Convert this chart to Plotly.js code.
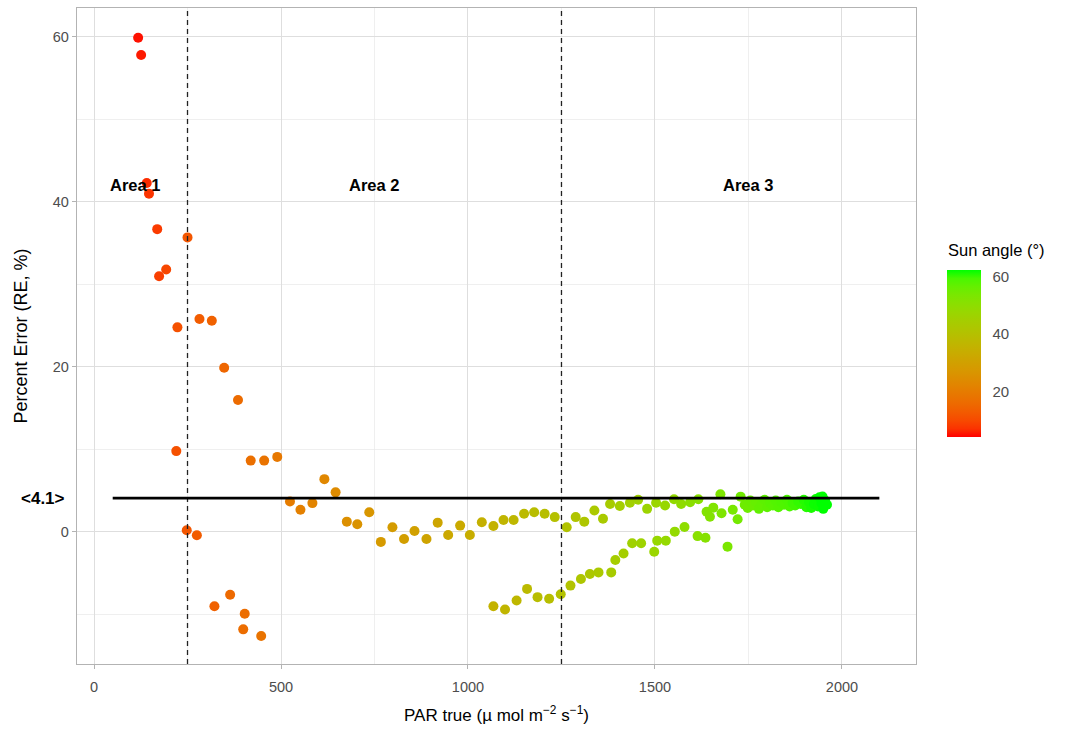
<!DOCTYPE html>
<html>
<head>
<meta charset="utf-8">
<script src="https://cdn.plot.ly/plotly-3.0.1.min.js"></script>
<style>
html,body{margin:0;padding:0;background:#fff;}
#chart{width:1075px;height:729px;}
</style>
</head>
<body>
<div id="chart"></div>
<script>
// PAR true (µmol m-2 s-1)
const parTrue = [
  118, 126, 141, 147, 169, 174, 193, 220, 223, 248, 250, 275, 282, 315, 322, 348, 364, 385, 399, 403,
  419, 447, 455, 490, 524, 552, 584, 616, 646, 676, 704, 736, 767, 798, 829, 857, 889, 919, 947, 979,
  1005, 1037, 1068, 1068, 1095, 1099, 1122, 1130, 1150, 1158, 1177, 1186, 1205, 1217, 1232, 1248, 1264, 1274, 1288, 1302,
  1311, 1326, 1338, 1349, 1361, 1380, 1383, 1394, 1406, 1416, 1433, 1439, 1455, 1463, 1479, 1498, 1503, 1506, 1527, 1529,
  1551, 1553, 1570, 1579, 1594, 1614, 1616, 1635, 1638, 1647, 1656, 1675, 1678, 1694, 1708, 1721, 1729,
  1740, 1748, 1755, 1762, 1770, 1778, 1785, 1793, 1800, 1808, 1815, 1823, 1830, 1838, 1845, 1853, 1860, 1868, 1875, 1883,
  1890, 1898, 1905, 1912, 1918, 1925, 1930, 1936, 1940, 1945, 1950, 1955, 1960, 1948
];
// Percent Error (RE, %)
const percentError = [
  59.9, 57.8, 42.3, 41.0, 36.7, 31.0, 31.8, 9.8, 24.8, 0.2, 35.7, -0.4, 25.8, 25.6, -9.0, 19.9, -7.6, 16.0, -11.8, -9.9,
  8.65, -12.6, 8.65, 9.1, 3.7, 2.7, 3.5, 6.4, 4.8, 1.25, 0.93, 2.4, -1.2, 0.57, -0.85, 0.12, -0.85, 1.13, -0.36, 0.77,
  -0.36, 1.17, 0.73, -9.0, 1.45, -9.4, 1.45, -8.3, 2.2, -6.9, 2.4, -7.9, 2.2, -8.1, 1.8, -7.55, 0.57, -6.5, 1.8, -5.7,
  1.25, -5.1, 2.6, -4.9, 1.6, 3.4, -4.9, -3.4, 3.15, -2.6, 3.55, -1.37, 3.9, -1.37, 2.8, -2.4, 3.55, -1.05, 3.2, -1.05,
  3.96, 0.04, 3.4, 0.6, 3.6, -0.5, 3.96, -0.7, 2.46, 1.85, 2.95, 4.57, 2.27, -1.78, 2.7, 1.54, 4.28,
  3.3, 2.9, 3.8, 3.2, 3.6, 2.8, 3.4, 3.9, 3.0, 3.5, 3.2, 3.8, 3.0, 3.6, 3.3, 3.9, 3.1, 3.5, 3.2, 3.7,
  3.4, 3.9, 3.0, 3.6, 2.9, 3.4, 4.0, 3.1, 4.2, 3.5, 2.8, 3.8, 3.3, 4.3
];
// Sun angle (°)
const sunAngle = [
  5, 5.5, 6.5, 7, 8, 8.5, 9.5, 11, 11, 12, 12, 13, 13, 14, 14, 15, 15.5, 16, 16.5, 16.5,
  17, 18, 18, 19, 20, 21, 22, 23, 24, 25, 26, 27, 28, 28.5, 29.5, 30, 31, 31.5, 32.5, 33,
  34, 35, 35.5, 35.5, 36.5, 36.5, 37, 37, 38, 38, 39, 39, 39.5, 39.5, 40, 40.5, 41, 41, 41.5, 42,
  42, 42.5, 43, 43, 43.5, 44, 44, 44.5, 45, 45, 45.5, 46, 46, 46.5, 47, 47.5, 47.5, 48, 48, 48.5,
  49, 49, 49.5, 50, 50.5, 51, 51, 51.5, 52, 52, 52.5, 53, 53, 53.5, 54, 54.5, 55,
  55.5, 55.5, 56, 56, 56.5, 57, 57, 57.5, 57.5, 58, 58, 58.5, 58.5, 59, 59, 59.5, 59.5, 60, 60, 60.5,
  60.5, 61, 61, 61.5, 61.5, 62, 62, 62, 62.5, 62.5, 62.5, 62.5, 62.5, 62.5
];
// Reference lines and labels
const areaBounds = [250, 1250];
const meanError = 4.1;
const meanLineFrom = 50, meanLineTo = 2100;
const areaNames = ["Area 1", "Area 2", "Area 3"];
const areaLabelX = [110, 750, 1750];
const areaLabelY = 42;
const xTicks = [0, 500, 1000, 1500, 2000];
const yTicks = [0, 20, 40, 60];
const cbTicks = [20, 40, 60];

// Lab-interpolated red -> green scale (like ggplot2 scale_colour_gradient)
function srgbToLin(c){c/=255;return c<=0.04045?c/12.92:Math.pow((c+0.055)/1.055,2.4);}
function linToSrgb(c){c=Math.max(0,Math.min(1,c));return Math.round(255*(c<=0.0031308?12.92*c:1.055*Math.pow(c,1/2.4)-0.055));}
function rgbToLab(r,g,b){
  const R=srgbToLin(r),G=srgbToLin(g),B=srgbToLin(b);
  let X=(0.4124*R+0.3576*G+0.1805*B)/0.95047,Y=(0.2126*R+0.7152*G+0.0722*B),Z=(0.0193*R+0.1192*G+0.9505*B)/1.08883;
  const f=t=>t>0.008856?Math.cbrt(t):(7.787*t+16/116);
  const fx=f(X),fy=f(Y),fz=f(Z);
  return [116*fy-16,500*(fx-fy),200*(fy-fz)];
}
function labToRgb(L,a,b){
  const fy=(L+16)/116,fx=fy+a/500,fz=fy-b/200;
  const inv=t=>t>0.206893?t*t*t:(t-16/116)/7.787;
  const X=inv(fx)*0.95047,Y=inv(fy),Z=inv(fz)*1.08883;
  const R=3.2406*X-1.5372*Y-0.4986*Z,G=-0.9689*X+1.8758*Y+0.0415*Z,B=0.0557*X-0.2040*Y+1.0570*Z;
  return 'rgb('+linToSrgb(R)+','+linToSrgb(G)+','+linToSrgb(B)+')';
}
const lo=rgbToLab(255,0,0), hi=rgbToLab(0,255,0);
const cscale=[];
for(let i=0;i<=20;i++){const t=i/20;cscale.push([t,labToRgb(lo[0]+(hi[0]-lo[0])*t,lo[1]+(hi[1]-lo[1])*t,lo[2]+(hi[2]-lo[2])*t)]);}

const FONT='"Liberation Sans", Arial, sans-serif';
const L=77,R=916,T=8,B=664;

const trace={
  type:'scatter',mode:'markers',x:parTrue,y:percentError,
  marker:{size:10,color:sunAngle,colorscale:cscale,cmin:4,cmax:62.5,line:{width:0},
    colorbar:{thickness:34,thicknessmode:'pixels',len:167,lenmode:'pixels',
      x:(947-L)/(R-L),xanchor:'left',y:(B-270)/(B-T),yanchor:'top',xpad:0,ypad:0,
      outlinewidth:0,tickvals:cbTicks,ticks:'outside',ticklen:9,tickcolor:'rgba(0,0,0,0)',tickwidth:1,
      tickfont:{family:FONT,size:15,color:'#4d4d4d'}}},
  hoverinfo:'x+y',showlegend:false
};

const shapes=[];
areaBounds.forEach(v=>shapes.push({type:'line',xref:'x',yref:'paper',x0:v,x1:v,y0:0,y1:1,layer:'above',
  line:{color:'#222',width:1.3,dash:'5px,4px'}}));
shapes.push({type:'line',xref:'x',yref:'y',x0:meanLineFrom,x1:meanLineTo,y0:meanError,y1:meanError,layer:'above',
  line:{color:'#000',width:2.6}});

const annotations=areaNames.map((n,i)=>({xref:'x',yref:'y',x:areaLabelX[i],y:areaLabelY,xanchor:'center',yanchor:'middle',
  text:'<b>'+n+'</b>',showarrow:false,font:{family:FONT,size:16.5,color:'#000'}}));
annotations.push({xref:'paper',yref:'y',x:(43-L)/(R-L),xanchor:'center',y:meanError,yanchor:'middle',
  text:'<b>&lt;'+meanError+'&gt;</b>',showarrow:false,font:{family:FONT,size:17,color:'#000'}});
annotations.push({xref:'paper',yref:'paper',x:(946-L)/(R-L),xanchor:'left',y:(B-250)/(B-T),yanchor:'middle',
  text:'Sun angle (°)',showarrow:false,font:{family:FONT,size:16.5,color:'#000'}});

const layout={
  width:1075,height:729,margin:{l:L,r:1075-R,t:T,b:729-B,pad:0},
  paper_bgcolor:'#fff',plot_bgcolor:'#fff',
  font:{family:FONT},
  xaxis:{range:[-45.5,2198],tickvals:xTicks,showgrid:true,gridcolor:'#dedede',gridwidth:1,zeroline:false,
    ticks:'outside',ticklen:4,tickcolor:'#b3b3b3',tickfont:{family:FONT,size:14.5,color:'#4d4d4d'},ticklabelstandoff:5,
    showline:true,mirror:true,linecolor:'#b3b3b3',linewidth:1.3,
    minor:{dtick:250,tick0:250,showgrid:true,gridcolor:'#e8e8e8',gridwidth:0.7,ticks:''},
    title:{text:'PAR true (µ mol m<sup>−2</sup> s<sup>−1</sup>)',font:{family:FONT,size:17,color:'#000'},standoff:15}},
  yaxis:{range:[-16,63.5],tickvals:yTicks,showgrid:true,gridcolor:'#dedede',gridwidth:1,zeroline:false,
    ticks:'outside',ticklen:4,tickcolor:'#b3b3b3',tickfont:{family:FONT,size:14.5,color:'#4d4d4d'},
    showline:true,mirror:true,linecolor:'#b3b3b3',linewidth:1.3,
    minor:{dtick:10,tick0:-10,showgrid:true,gridcolor:'#e8e8e8',gridwidth:0.7,ticks:''},
    title:{text:'Percent Error (RE, %)',font:{family:FONT,size:18,color:'#000'},standoff:20}},
  shapes:shapes,annotations:annotations
};
Plotly.newPlot('chart',[trace],layout,{displayModeBar:false,staticPlot:true});
</script>
</body>
</html>
